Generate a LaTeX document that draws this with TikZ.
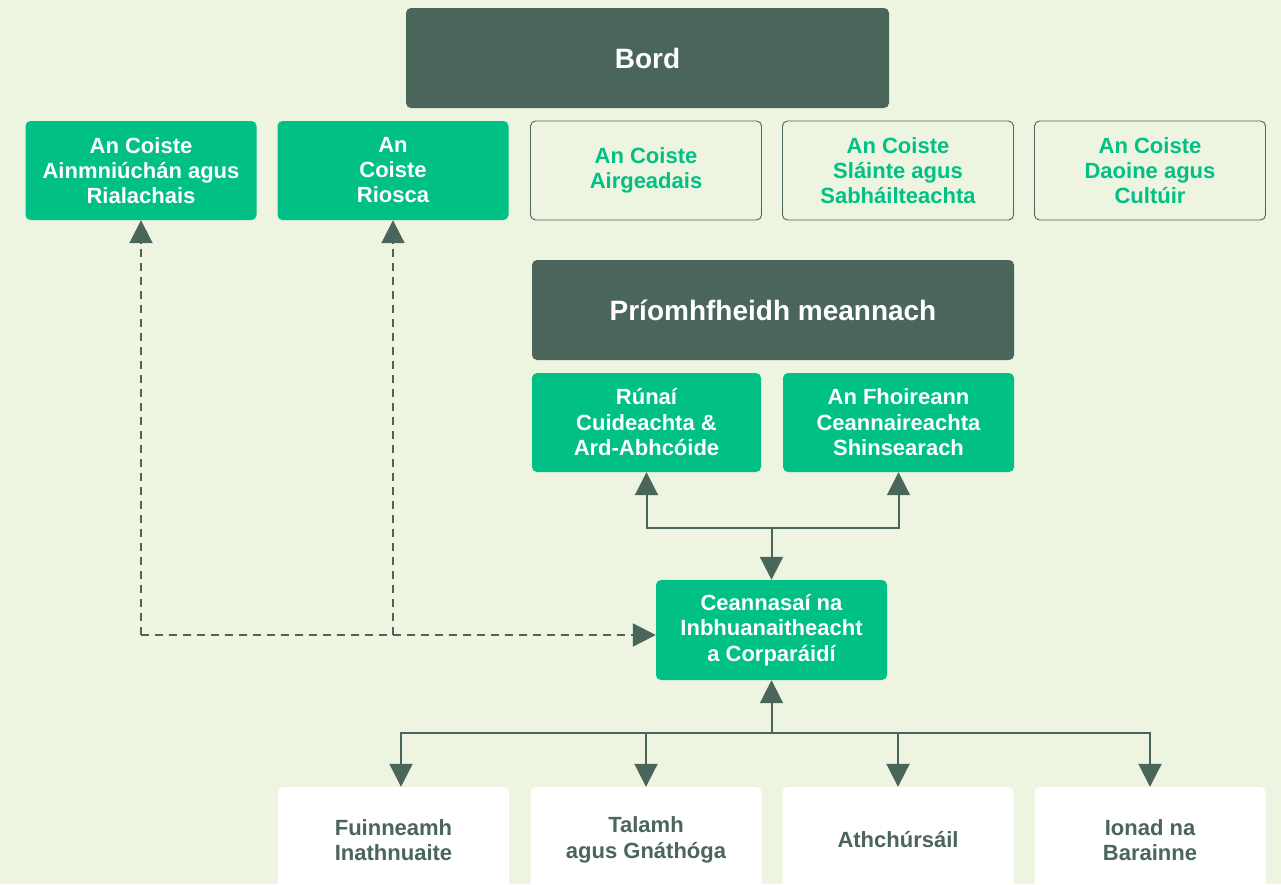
\documentclass[tikz,border=0pt]{standalone}
\usepackage{fontspec}
\setmainfont{Liberation Sans}
\usetikzlibrary{arrows.meta}
\definecolor{bg}{HTML}{EDF4E0}
\definecolor{dk}{HTML}{4A655A}
\definecolor{gr}{HTML}{00C085}
\tikzset{
  box/.style={rounded corners=5pt, align=center, inner sep=0pt, minimum width=231pt, minimum height=99pt, font=\bfseries\fontsize{22}{25.5}\selectfont},
  rowone/.style={font=\bfseries\fontsize{22}{25}\selectfont},
  darkbox/.style={box, fill=dk, text=white, minimum height=100pt, font=\bfseries\fontsize{28}{32}\selectfont},
  greenbox/.style={box, fill=gr, text=white},
  outbox/.style={box, draw=dk, line width=0.9pt, fill=bg, text=gr},
  whitebox/.style={box, fill=white, text=dk, minimum height=106pt},
  arr/.style={draw=dk, line width=2pt, -{Triangle[width=23pt,length=23pt]}},
  dsh/.style={draw=dk, line width=2pt, dash pattern=on 8pt off 6pt, -{Triangle[width=23pt,length=23pt]}},
}
\begin{document}
\begin{tikzpicture}[x=1pt,y=-1pt]
\fill[bg] (0,0) rectangle (1281,884);
\clip (0,0) rectangle (1281,884);
\useasboundingbox (0,0) rectangle (1281,884);

\node[darkbox, minimum width=483pt] (bord) at (647.5,58) {Bord};

\node[greenbox, rowone] (c1) at (141,170.5) {An Coiste\\Ainmniúchán agus\\Rialachais};
\node[greenbox, rowone] (c2) at (393,170.5) {An\\Coiste\\Riosca};
\node[outbox, rowone] (c3) at (646,170.5) {An Coiste\\Airgeadais};
\node[outbox, rowone] (c4) at (898,170.5) {An Coiste\\Sláinte agus\\Sabháilteachta};
\node[outbox, rowone] (c5) at (1150,170.5) {An Coiste\\Daoine agus\\Cultúir};

\node[darkbox, minimum width=482pt] (ceo) at (773,310) {Príomhfheidh meannach};

\node[greenbox, minimum width=229pt] (runai) at (646.5,422.5) {Rúnaí\\Cuideachta \&\\Ard-Abhcóide};
\node[greenbox] (fhoir) at (898.5,422.5) {An Fhoireann\\Ceannaireachta\\Shinsearach};

\node[greenbox, minimum height=100pt] (ceann) at (771.5,630) {Ceannasaí na\\Inbhuanaitheacht\\a Corparáidí};

\node[whitebox] (b1) at (393.5,840) {Fuinneamh\\Inathnuaite};
\node[whitebox] (b2) at (646,840) {Talamh\\agus Gnáthóga};
\node[whitebox] (b3) at (898,840) {Athchúrsáil};
\node[whitebox] (b4) at (1150,840) {Ionad na\\Barainne};

% top junction
\coordinate (j) at (771.5,528);
\draw[arr] (j) -| (runai.south);
\draw[arr] (j) -| (fhoir.south);
\draw[arr] (j) -- (ceann.north);

% dashed links
\coordinate (d1) at (141,635);
\coordinate (d2) at (393,635);
\draw[dsh] (d1) -- (c1.south);
\draw[dsh] (d2) -- (c2.south);
\draw[dsh] (d1) -- (d1 -| ceann.west);

% bottom junction
\coordinate (k) at (771.5,733);
\coordinate (b1in) at ([xshift=7.5pt]b1.north);
\draw[arr] (k) -- (ceann.south);
\draw[arr] (k) -| (b1in);
\draw[arr] (k) -| (b2.north);
\draw[arr] (k) -| (b3.north);
\draw[arr] (k) -| (b4.north);
\end{tikzpicture}
\end{document}
